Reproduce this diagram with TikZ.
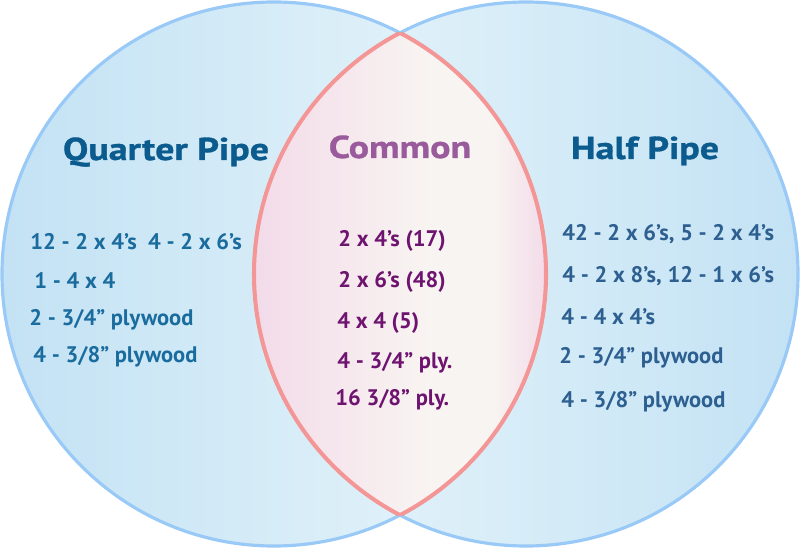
\documentclass[tikz,border=0pt]{standalone}
\usepackage{fontspec}
\setmainfont{PT Sans}
\newfontfamily\headfont{PT Sans}[FakeStretch=1.2,FakeBold=1]
\usepackage{xcolor}
\usepackage{tikz}
\usetikzlibrary{positioning}
\definecolor{ringblue}{HTML}{99C9F7}
\definecolor{skyedge}{HTML}{C3E2F4}
\definecolor{skymid}{HTML}{E9F6FB}
\definecolor{lensline}{HTML}{F59696}
\definecolor{lensside}{HTML}{F3DBE9}
\definecolor{lensmid}{HTML}{F8F4F1}
\definecolor{titleblue}{HTML}{0B5B8E}
\definecolor{itemblue}{HTML}{1B6C9E}
\definecolor{itemslate}{HTML}{2D5F90}
\definecolor{titleplum}{HTML}{9A5B9D}
\definecolor{itemplum}{HTML}{6E1470}
\pgfdeclarehorizontalshading{lensfade}{100bp}{color(0bp)=(lensside); color(25bp)=(lensside); color(55bp)=(lensmid); color(66bp)=(lensmid); color(75bp)=(lensside); color(100bp)=(lensside)}

\begin{document}
\begin{tikzpicture}[
  x=0.02cm, y=-0.02cm,
  title/.style={font=\headfont\bfseries\fontsize{18}{20}\selectfont,anchor=base,inner sep=0pt},
  item/.style={font=\bfseries\fontsize{12.8}{15}\selectfont,anchor=base west,inner sep=0pt},
  leftitem/.style={item,text=itemblue},
  midItem/.style={item,text=itemplum},
  rightitem/.style={item,text=itemslate},
  ring/.style={draw=ringblue,line width=1.8pt},
  lens/.style={draw=lensline,line width=2.3pt}
]
\useasboundingbox (0,0) rectangle (800,550);
\coordinate (quarter) at (274,274);
\coordinate (half) at (526,274);

% the two sets
\shade[left color=skyedge,right color=skymid] (quarter) circle[radius=272];
\shade[left color=skymid,right color=skyedge] (half) circle[radius=272];
\draw[ring] (quarter) circle[radius=272];
\draw[ring] (half) circle[radius=272];

% overlap
\begin{scope}
  \clip (quarter) circle[radius=272];
  \clip (half) circle[radius=272];
  \shade[shading=lensfade] (254,0) rectangle (546,550);
\end{scope}
\begin{scope}
  \clip (half) circle[radius=272];
  \draw[lens] (quarter) circle[radius=272];
\end{scope}
\begin{scope}
  \clip (quarter) circle[radius=272];
  \draw[lens] (half) circle[radius=272];
\end{scope}

\node[title,text=titleblue] (qtitle) at (166,160) {Quarter Pipe};
\node[title,text=titleplum] (ctitle) at (400,158) {Common};
\node[title,text=titleblue] (htitle) at (645,159) {Half Pipe};

\node[leftitem] (q1) at (30,250) {12 - 2 x 4’s\enspace 4 - 2 x 6’s};
\node[leftitem] (q2) at (34,288) {1 - 4 x 4};
\node[leftitem] (q3) at (29,325) {2 - 3/4” plywood};
\node[leftitem] (q4) at (33,362) {4 - 3/8” plywood};

\node[midItem] (c1) at (338,247) {2 x 4’s (17)};
\node[midItem] (c2) at (338,287) {2 x 6’s (48)};
\node[midItem] (c3) at (337,328) {4 x 4 (5)};
\node[midItem] (c4) at (337,368) {4 - 3/4” ply.};
\node[midItem] (c5) at (335,405) {16 3/8” ply.};

\node[rightitem] (h1) at (562,240) {42 - 2 x 6’s, 5 - 2 x 4’s};
\node[rightitem] (h2) at (562,282) {4 - 2 x 8’s, 12 - 1 x 6’s};
\node[rightitem] (h3) at (561,324) {4 - 4 x 4’s};
\node[rightitem] (h4) at (559,363) {2 - 3/4” plywood};
\node[rightitem] (h5) at (561,407) {4 - 3/8” plywood};
\end{tikzpicture}
\end{document}
